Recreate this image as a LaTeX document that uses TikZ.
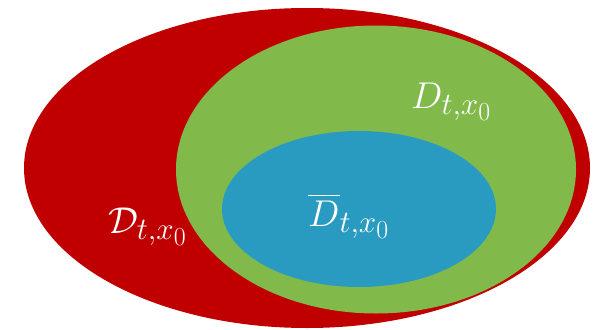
\documentclass[tikz,border=0pt]{standalone}
\usepackage{graphicx}
\usepackage{amsmath}
\definecolor{redE}{HTML}{C00000}
\definecolor{greenE}{HTML}{81BA4B}
\definecolor{blueE}{HTML}{2A9BC0}
\newcommand{\biglab}[1]{\scalebox{1.5}{\fontsize{24.88}{30}\selectfont$#1$}}
\tikzset{
  region/.style={draw=none},
  lab/.style={text=white, anchor=base west, inner sep=0pt}
}
\begin{document}
\begin{tikzpicture}[x=1pt,y=-1pt]
\useasboundingbox (0,0) rectangle (599,329);
\fill[white] (0,0) rectangle (599,329);
\fill[redE, region] (307,168) ellipse [x radius=283, y radius=160];
\fill[greenE, region] (376,169.5) ellipse [x radius=200, y radius=144];
\fill[blueE, region] (359,209) ellipse [x radius=137, y radius=78];
\node[lab] (outer) at (108,233) {\biglab{\mathcal{D}_{t,x_0}}};
\node[lab] (mid) at (411,108) {\biglab{D_{t,x_0}}};
\node[lab] (inner) at (308,226) {\biglab{\overline{D}_{t,x_0}}};
\end{tikzpicture}
\end{document}
